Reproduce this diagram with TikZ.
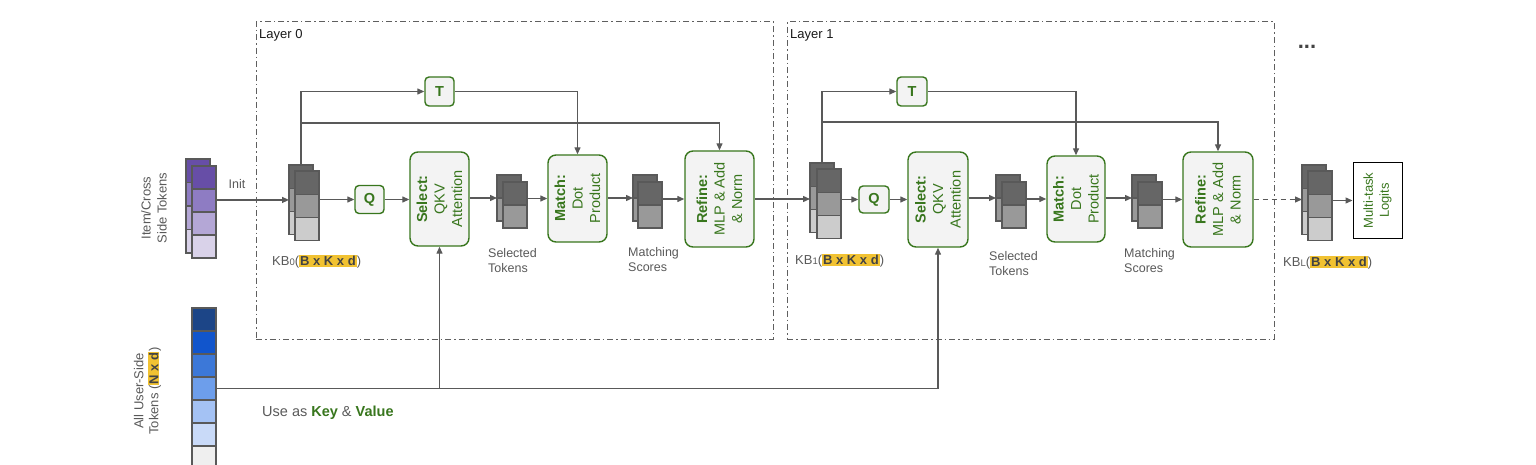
\documentclass[tikz,border=0pt]{standalone}
\usepackage{fontspec}
\setmainfont{Liberation Sans}
\usetikzlibrary{arrows.meta}
\definecolor{cgray}{HTML}{595959}
\definecolor{tgray}{HTML}{595959}
\definecolor{lgray}{HTML}{5F5F5F}
\definecolor{ggreen}{HTML}{38761D}
\definecolor{boxfill}{HTML}{F3F3F3}
\definecolor{cellline}{HTML}{595959}
\definecolor{hlyellow}{HTML}{F1C232}
\definecolor{hltext}{HTML}{434343}
\definecolor{g1}{HTML}{666666}
\definecolor{g2}{HTML}{999999}
\definecolor{g3}{HTML}{CCCCCC}
\definecolor{pu1}{HTML}{674EA7}
\definecolor{pu2}{HTML}{8E7CC3}
\definecolor{pu3}{HTML}{B4A7D6}
\definecolor{pu4}{HTML}{D9D2E9}
\definecolor{b1}{HTML}{1C4587}
\definecolor{b2}{HTML}{1155CC}
\definecolor{b3}{HTML}{3C78D8}
\definecolor{b4}{HTML}{6D9EEB}
\definecolor{b5}{HTML}{A4C2F4}
\definecolor{b6}{HTML}{C9DAF8}
\definecolor{b7}{HTML}{EFEFEF}
\newcommand\hlb[1]{{\setlength\fboxsep{1pt}\colorbox{hlyellow}{\textbf{\color{hltext}#1}}}}
\newcommand\drawstack[6]{%
  \foreach \cc [count=\ii from 0] in {#6}{%
    \filldraw[fill=\cc, draw=cellline, line width=1.1pt] ({#2},{#3+\ii*#5}) rectangle ++(24,#5);
  }%
  \node[stackframe, minimum width=24pt, minimum height=#4*#5pt] (#1) at (#2,#3) {};
}
\begin{document}
\begin{tikzpicture}[x=1pt,y=-1pt,
  conn/.style={draw=cgray, line width=1.3pt},
  arr/.style={conn, -{Triangle[length=7pt,width=6pt]}},
  gbox/.style={draw=ggreen, fill=boxfill, line width=1.4pt, rounded corners=8pt, inner sep=0pt},
  sbox/.style={gbox, rounded corners=4pt, text=ggreen, font=\fontsize{14.5}{17}\selectfont\bfseries},
  btext/.style={rotate=90, align=center, text=ggreen, font=\fontsize{14.5}{17.5}\selectfont, inner sep=0pt},
  stackframe/.style={inner sep=0pt, outer sep=0pt, draw=none, anchor=north west},
  lbl/.style={text=tgray, font=\fontsize{12.5}{15}\selectfont, align=left, inner sep=0pt, anchor=west},
  kblbl/.style={text=tgray, font=\fontsize{13}{15}\selectfont, inner sep=0pt, anchor=west},
  layerbox/.style={draw=lgray, line width=1pt, dash pattern=on 6pt off 3pt on 1.5pt off 3pt, anchor=north west, inner sep=0pt, outer sep=0pt},
  layertxt/.style={anchor=west, inner sep=0pt, font=\fontsize{13}{15}\selectfont, text=black!90}
]
\useasboundingbox (0,0) rectangle (1536,465);

% layer frames
\node[layerbox, minimum width=517pt, minimum height=317pt] (L0) at (256,22) {};
\node[layerbox, minimum width=487pt, minimum height=317pt] (L1) at (787,22) {};
\node[layertxt] (L0t) at (259,35) {Layer 0};
\node[layertxt] (L1t) at (790,35) {Layer 1};

% stacks
\drawstack{itemb}{186}{159}{4}{23.5}{pu1,pu2,pu3,pu4}
\drawstack{itemf}{192}{166}{4}{23}{pu1,pu2,pu3,pu4}
\drawstack{kb0b}{289}{165}{3}{23.3}{g1,g2,g3}
\drawstack{kb0f}{295}{171}{3}{23.3}{g1,g2,g3}
\drawstack{s0b}{497}{175}{2}{23}{g1,g2}
\drawstack{s0f}{503}{182}{2}{23}{g1,g2}
\drawstack{m0b}{633}{175}{2}{23}{g1,g2}
\drawstack{m0f}{638}{182}{2}{23}{g1,g2}
\drawstack{kb1b}{810}{163}{3}{23.3}{g1,g2,g3}
\drawstack{kb1f}{817}{169}{3}{23.3}{g1,g2,g3}
\drawstack{s1b}{996}{175}{2}{23}{g1,g2}
\drawstack{s1f}{1002}{182}{2}{23}{g1,g2}
\drawstack{m1b}{1132}{175}{2}{23}{g1,g2}
\drawstack{m1f}{1138}{182}{2}{23}{g1,g2}
\drawstack{kblb}{1302}{165}{3}{23.3}{g1,g2,g3}
\drawstack{kblf}{1308}{171}{3}{23.3}{g1,g2,g3}
\drawstack{user}{192}{308}{7}{23}{b1,b2,b3,b4,b5,b6,b7}

% side labels
\node[rotate=90, align=center, text=tgray, font=\fontsize{13}{16}\selectfont] (itemt) at (154,208) {Item/Cross\\Side Tokens};
\node[rotate=90, align=center, text=tgray, font=\fontsize{13}{15}\selectfont] (usert) at (147.5,391) {All User-Side\\Tokens (\hlb{N x d})};
\node[text=tgray, font=\fontsize{12.5}{15}\selectfont, inner sep=0pt] (initl) at (237,184) {Init};

% layer 0 boxes
\node[sbox, minimum width=29pt, minimum height=29pt] (t0) at (439.5,91.5) {T};
\node[sbox, minimum width=29pt, minimum height=28pt] (q0) at (369.5,199.5) {Q};
\node[gbox, minimum width=59pt, minimum height=94pt] (sel0) at (439.5,199) {};
\node[btext] (sel0t) at (sel0) {\textbf{Select:}\\QKV\\Attention};
\node[gbox, minimum width=59pt, minimum height=87pt] (mat0) at (577.5,198.5) {};
\node[btext] (mat0t) at (mat0) {\textbf{Match:}\\Dot\\Product};
\node[gbox, minimum width=69pt, minimum height=96pt] (ref0) at (719.5,199) {};
\node[btext] (ref0t) at (ref0) {\textbf{Refine:}\\MLP \& Add\\\& Norm};

% layer 1 boxes
\node[sbox, minimum width=30pt, minimum height=29pt] (t1) at (912,91.5) {T};
\node[sbox, minimum width=30pt, minimum height=27pt] (q1) at (874,199.5) {Q};
\node[gbox, minimum width=60pt, minimum height=95pt] (sel1) at (938,199.5) {};
\node[btext] (sel1t) at (sel1) {\textbf{Select:}\\QKV\\Attention};
\node[gbox, minimum width=58pt, minimum height=86pt] (mat1) at (1076,199) {};
\node[btext] (mat1t) at (mat1) {\textbf{Match:}\\Dot\\Product};
\node[gbox, minimum width=70pt, minimum height=95pt] (ref1) at (1218,199.5) {};
\node[btext] (ref1t) at (ref1) {\textbf{Refine:}\\MLP \& Add\\\& Norm};

% logits
\node[draw=black, line width=1pt, minimum width=49pt, minimum height=75pt, inner sep=0pt] (logits) at (1377.5,200.5) {};
\node[rotate=90, align=center, text=ggreen, font=\fontsize{13}{16}\selectfont, inner sep=0pt] (logitst) at (logits) {Multi-task\\Logits};

% labels
\node[lbl] (s0l) at (488,260.5) {Selected\\Tokens};
\node[lbl] (m0l) at (628,259.5) {Matching\\Scores};
\node[lbl] (s1l) at (989,264) {Selected\\Tokens};
\node[lbl] (m1l) at (1124,261) {Matching\\Scores};
\node[kblbl] (kb0l) at (272,262) {KB{\fontsize{9.5}{10}\selectfont 0}(\hlb{B x K x d})};
\node[kblbl] (kb1l) at (795,261) {KB{\fontsize{9.5}{10}\selectfont 1}(\hlb{B x K x d})};
\node[kblbl] (kbll) at (1283,263) {KB{\fontsize{9.5}{10}\selectfont L}(\hlb{B x K x d})};
\node[anchor=west, inner sep=0pt, font=\fontsize{14.5}{17}\selectfont, text=tgray] (kvt) at (262,413) {Use as \textcolor{ggreen}{\textbf{Key}} \& \textcolor{ggreen}{\textbf{Value}}};
\node[anchor=base, inner sep=0pt, font=\fontsize{22}{22}\selectfont\bfseries, text=hltext] (dots) at (1307,49) {...};

% branch points
\path (kb0b.north) ++(0,-42) coordinate (br0);
\path (kb1b.north) ++(0,-41) coordinate (br1);

% connectors layer 0
\draw[arr] (itemf.east |- kb0b.west) -- (kb0b.west);
\draw[arr] (kb0f.east |- q0.west) -- (q0.west);
\draw[arr] (q0.east) -- (sel0.west |- q0.east);
\draw[arr] (sel0.east |- s0b.west) -- (s0b.west);
\draw[arr] (s0f.east |- mat0.west) -- (mat0.west);
\draw[arr] (mat0.east |- m0b.west) -- (m0b.west);
\draw[arr] (m0f.east |- ref0.west) -- (ref0.west);
\draw[arr] (ref0.east) -- (kb1b.west |- ref0.east);
\draw[arr] (kb0b.north) |- (t0.west);
\draw[arr] (t0.east) -| (mat0.north);
\draw[arr] (br0) -| (ref0.north);

% connectors layer 1
\draw[arr] (kb1f.east |- q1.west) -- (q1.west);
\draw[arr] (q1.east) -- (sel1.west |- q1.east);
\draw[arr] (sel1.east |- s1b.west) -- (s1b.west);
\draw[arr] (s1f.east |- mat1.west) -- (mat1.west);
\draw[arr] (mat1.east |- m1b.west) -- (m1b.west);
\draw[arr] (m1f.east |- ref1.west) -- (ref1.west);
\draw[arr, dash pattern=on 5pt off 4pt] (ref1.east) -- (kblb.west |- ref1.east);
\draw[arr] (kb1b.north) |- (t1.west);
\draw[arr] (t1.east) -| (mat1.north);
\draw[arr] (br1) -| (ref1.north);
\draw[arr] (kblf.east |- logits.west) -- (logits.west);

% key / value
\draw[arr] (user.east) -| (sel1.south);
\draw[arr] (sel0.south |- user.east) -- (sel0.south);
\end{tikzpicture}
\end{document}
